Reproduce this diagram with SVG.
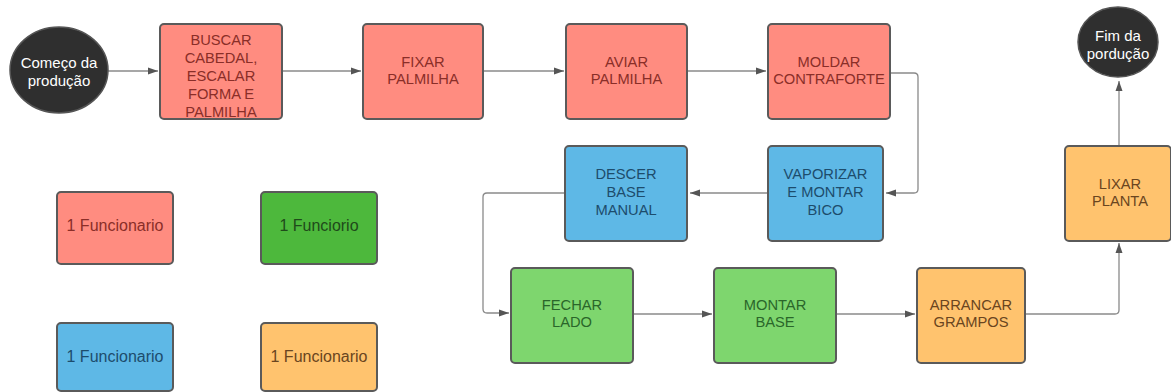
<svg xmlns="http://www.w3.org/2000/svg" width="1171" height="392" viewBox="0 0 1171 392">
<defs>
<style>
.node rect{stroke:#5a5a5a;stroke-width:2}
.red rect{fill:#FF8C80}
.blue rect{fill:#5EB8E6}
.green rect{fill:#7ED66E}
.dgreen rect{fill:#4DB83C}
.orange rect{fill:#FFC36E}
text{font-family:"Liberation Sans",Arial,sans-serif;font-size:14.7px;text-anchor:middle;dominant-baseline:central}
.legend text{font-size:16px}
.red text{fill:#8A2E28}
.blue text{fill:#1D4C6C}
.green text{fill:#2A662A}
.dgreen text{fill:#1F4A1A}
.orange text{fill:#6A4520}
.term ellipse{fill:#2F2F2F;stroke:#555;stroke-width:1.5}
.term text{fill:#FFFFFF;font-size:15px}
.conn path{fill:none;stroke:#8A8A8A;stroke-width:1.3;marker-end:url(#arr)}
</style>
<marker id="arr" viewBox="0 0 10 10" refX="10" refY="5" markerWidth="10" markerHeight="10" markerUnits="userSpaceOnUse" orient="auto">
<path d="M0,1.5 L10,5 L0,8.5 Z" fill="#555"/>
</marker>
</defs>
<rect width="1171" height="392" fill="#FFFFFF"/>
<g id="connectors" class="conn">
<path d="M108,71 H158"/>
<path d="M282,71 H361"/>
<path d="M483,71 H564"/>
<path d="M687,71 H766"/>
<path d="M890,73 H914 Q918,73 918,77 V189 Q918,193 914,193 H886"/>
<path d="M768,193 H690"/>
<path d="M565,193 H487 Q483,193 483,197 V309 Q483,313 487,313 H509"/>
<path d="M633,314 H712"/>
<path d="M836,314 H915"/>
<path d="M1025,314 H1115 Q1119,314 1119,310 V243"/>
<path d="M1119,146 V81"/>
</g>
<g id="start" class="term">
<ellipse cx="59" cy="70" rx="49" ry="43"/>
<text x="59" y="62">Começo da</text>
<text x="59" y="80">produção</text>
</g>
<g id="end" class="term">
<ellipse cx="1118" cy="42" rx="40" ry="35"/>
<text x="1118" y="35">Fim da</text>
<text x="1118" y="53">pordução</text>
</g>
<g id="buscar" class="node red">
<rect x="160" y="24" width="122" height="95" rx="4"/>
<text x="221" y="40">BUSCAR</text>
<text x="221" y="57.5">CABEDAL,</text>
<text x="221" y="76">ESCALAR</text>
<text x="221" y="94">FORMA E</text>
<text x="221" y="112">PALMILHA</text>
</g>
<g id="fixar" class="node red">
<rect x="363" y="24" width="120" height="95" rx="4"/>
<text x="423" y="62">FIXAR</text>
<text x="423" y="79">PALMILHA</text>
</g>
<g id="aviar" class="node red">
<rect x="566" y="24" width="121" height="95" rx="4"/>
<text x="626.5" y="62">AVIAR</text>
<text x="626.5" y="79">PALMILHA</text>
</g>
<g id="moldar" class="node red">
<rect x="768" y="24" width="122" height="95" rx="4"/>
<text x="829" y="62">MOLDAR</text>
<text x="829" y="79">CONTRAFORTE</text>
</g>
<g id="vaporizar" class="node blue">
<rect x="768" y="146" width="115" height="95" rx="4"/>
<text x="825.5" y="174">VAPORIZAR</text>
<text x="825.5" y="192">E MONTAR</text>
<text x="825.5" y="210">BICO</text>
</g>
<g id="descer" class="node blue">
<rect x="565" y="146" width="122" height="95" rx="4"/>
<text x="626" y="174">DESCER</text>
<text x="626" y="192">BASE</text>
<text x="626" y="210">MANUAL</text>
</g>
<g id="fechar" class="node green">
<rect x="511" y="268" width="122" height="95" rx="4"/>
<text x="572" y="305">FECHAR</text>
<text x="572" y="322">LADO</text>
</g>
<g id="montar" class="node green">
<rect x="714" y="268" width="122" height="95" rx="4"/>
<text x="775" y="305">MONTAR</text>
<text x="775" y="322">BASE</text>
</g>
<g id="arrancar" class="node orange">
<rect x="917" y="268" width="108" height="95" rx="4"/>
<text x="971" y="305">ARRANCAR</text>
<text x="971" y="322">GRAMPOS</text>
</g>
<g id="lixar" class="node orange">
<rect x="1065" y="146" width="106" height="95" rx="4"/>
<text x="1120" y="184">LIXAR</text>
<text x="1120" y="201">PLANTA</text>
</g>
<g id="legend-red" class="node red legend">
<rect x="57" y="192" width="116" height="72" rx="4"/>
<text x="115" y="225">1 Funcionario</text>
</g>
<g id="legend-green" class="node dgreen legend">
<rect x="261" y="192" width="116" height="72" rx="4"/>
<text x="319" y="225">1 Funciorio</text>
</g>
<g id="legend-blue" class="node blue legend">
<rect x="57" y="323" width="116" height="68" rx="4"/>
<text x="115" y="356">1 Funcionario</text>
</g>
<g id="legend-orange" class="node orange legend">
<rect x="261" y="323" width="116" height="68" rx="4"/>
<text x="319" y="356">1 Funcionario</text>
</g>
</svg>
